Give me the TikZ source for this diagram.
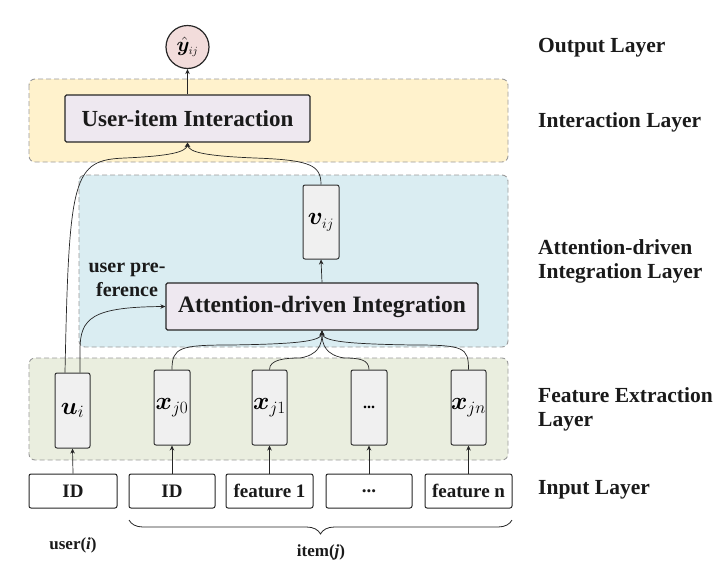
\documentclass[tikz,border=0pt]{standalone}
\usepackage{fontspec}
\setmainfont{Liberation Serif}
\usepackage{bm}
\usetikzlibrary{arrows.meta,decorations.pathreplacing}
\definecolor{yel}{HTML}{FFF2CC}
\definecolor{blu}{HTML}{DAEDF2}
\definecolor{grn}{HTML}{EAEEDF}
\definecolor{lav}{HTML}{EEE8F0}
\definecolor{pnk}{HTML}{F2DCDB}
\definecolor{fgray}{HTML}{F0F0F0}
\definecolor{dashgray}{HTML}{9A9A9A}
\definecolor{txt}{HTML}{1A1A1A}
\newcommand{\sub}[1]{_{\scriptscriptstyle #1}}
\begin{document}
\begin{tikzpicture}[x=1pt,y=-1pt,
  region/.style={draw=dashgray, dash pattern=on 5pt off 3pt, rounded corners=6pt, line width=0.9pt},
  bigbox/.style={draw=black!85, fill=lav, line width=1.2pt, rounded corners=1.5pt, inner sep=0pt, text=txt, font=\bfseries\fontsize{23}{24}\selectfont},
  featbox/.style={draw=black!80, fill=fgray, line width=1pt, rounded corners=2pt, inner sep=0pt, minimum width=35pt, minimum height=75pt, font=\fontsize{33}{33}\selectfont},
  inbox/.style={draw=black!85, fill=white, line width=1pt, rounded corners=2pt, inner sep=0pt, minimum height=34pt, text=txt, font=\bfseries\fontsize{19}{20}\selectfont},
  lab/.style={anchor=west, inner sep=0pt, align=left, text=txt, font=\bfseries\fontsize{21.5}{24}\selectfont},
  conn/.style={line width=0.7pt, draw=black!85, -{Stealth[length=5pt,width=4.5pt]}},
  line/.style={line width=0.7pt, draw=black!85}
]
\useasboundingbox (0,0) rectangle (715,571);
% regions
\draw[region, fill=yel] (29,79) rectangle (508,162);
\draw[region, fill=blu] (79,175) rectangle (508,347);
\draw[region, fill=grn] (29,358) rectangle (508,460);

% output
\node[circle, draw=black!85, fill=pnk, line width=1.2pt, minimum size=43pt, inner sep=0pt, font=\fontsize{22}{22}\selectfont] (out) at (187.5,47) {$\bm{\hat{y}}\sub{ij}$};
\node[bigbox, minimum width=245pt, minimum height=47pt] (ui) at (187.5,118.5) {User-item Interaction};
\node[featbox, minimum width=36pt, minimum height=74pt, font=\fontsize{29}{29}\selectfont] (v) at (321,222) {$\bm{v}\sub{ij}$};
\node[bigbox, minimum width=312pt, minimum height=47pt, font=\bfseries\fontsize{23.5}{24}\selectfont] (adi) at (322,306.5) {Attention-driven Integration};

% feature boxes
\node[featbox] (u) at (72.5,410.5) {$\bm{u}\sub{i}$};
\node[featbox, minimum width=36pt] (x0) at (172,407.5) {$\bm{x}\sub{j0}$};
\node[featbox] (x1) at (269.5,407.5) {$\bm{x}\sub{j1}$};
\node[featbox, minimum width=36pt, font=\bfseries\fontsize{16}{16}\selectfont] (xd) at (369,407.5) {...};
\node[featbox] (xn) at (468.5,407.5) {$\bm{x}\sub{jn}$};

% input boxes
\node[inbox, minimum width=88pt] (uid) at (73,491) {ID};
\node[inbox, minimum width=86pt] (iid) at (172,491) {ID};
\node[inbox, minimum width=87pt] (f1) at (269.5,491) {feature 1};
\node[inbox, minimum width=86pt] (fd) at (369,491) {...};
\node[inbox, minimum width=87pt] (fn) at (468.5,491) {feature n};

% input arrows
\draw[conn] (uid.north) -- (u.south);
\draw[conn] (iid.north) -- (x0.south);
\draw[conn] (f1.north) -- (x1.south);
\draw[conn] (fd.north) -- (xd.south);
\draw[conn] (fn.north) -- (xn.south);

% coordinates
\coordinate (uA) at ([xshift=-7.5pt]u.north);
\coordinate (uB) at ([xshift=7.5pt]u.north);
\coordinate (adiS) at (adi.south);
\coordinate (uiS) at (ui.south);

% feature to attention
\draw[conn] (x0.north) .. controls +(0,-22) and +(-50,0) .. (230,345) .. controls (300,344) and (321,341) .. (adiS);
\draw[conn] (xn.north) .. controls +(0,-22) and +(50,0) .. (414,345) .. controls (344,344) and (323,341) .. (adiS);
\draw[conn] (x1.north) .. controls +(0,-10) and +(-15,0) .. (300,358) .. controls (318,355) and (322,345) .. (adiS);
\draw[conn] (xd.north) .. controls +(0,-10) and +(15,0) .. (344,358) .. controls (326,355) and (322,345) .. (adiS);

% user preference
\draw[conn] (uB) -- (80,350) .. controls (80,318) and (92,307) .. (adi.west);
\node[inner sep=0pt, align=center, text=txt, font=\bfseries\fontsize{20}{24}\selectfont] (up) at (127,280) {user pre-\\ference};

% up to interaction
\draw[conn] (uA) .. controls (69,175) and (73,160) .. (125,158) .. controls (170,156) and (186,152) .. (uiS);
\draw[conn] (v.north) .. controls (321,165) and (310,160) .. (255,158) .. controls (205,156) and (189,152) .. (uiS);
\draw[conn] (adi.north) -- (v.south);
\draw[conn] (ui.north) -- (out.south);

% brace
\coordinate (bl) at (129,520);
\coordinate (br) at (512,520);
\draw[line width=0.8pt, black!85, decorate, decoration={brace, mirror, amplitude=14pt}] (bl) -- (br);
\node[text=txt, font=\bfseries\fontsize{17}{18}\selectfont] (itm) at (321,552) {item(\textit{j})};
\node[text=txt, font=\bfseries\fontsize{17}{18}\selectfont] (usr) at (73,545) {user(\textit{i})};

% layer labels
\node[lab] (l1) at (538,48) {Output Layer};
\node[lab] (l2) at (538,122) {Interaction Layer};
\node[lab] (l3) at (538,261.5) {Attention-driven\\Integration Layer};
\node[lab] (l4) at (538,409.5) {Feature Extraction\\Layer};
\node[lab] (l5) at (538,490) {Input Layer};
\end{tikzpicture}
\end{document}
